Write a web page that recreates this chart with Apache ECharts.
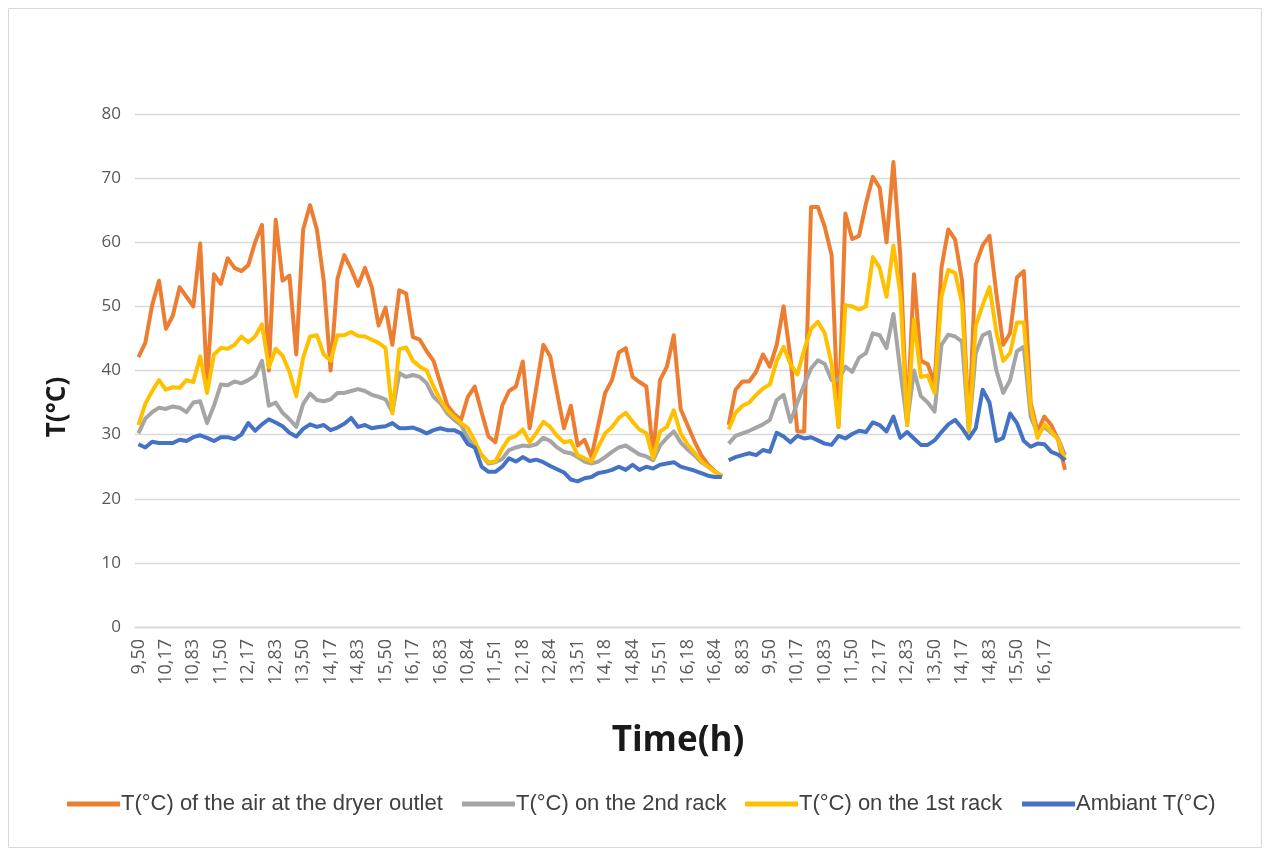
<!DOCTYPE html>
<html>
<head>
<meta charset="utf-8">
<script src="https://cdn.jsdelivr.net/npm/echarts@6/dist/echarts.min.js"></script>
<style>
  html, body { margin: 0; padding: 0; background: #ffffff; }
  #chart { width: 1271px; height: 856px; }
</style>
</head>
<body>
<div id="chart"></div>
<script>
// Tick labels (decimal hours) printed every fourth reading slot
const tickLabels = ['9,50','10,17','10,83','11,50','12,17','12,83','13,50','14,17','14,83','15,50','16,17','16,83',
  '10,84','11,51','12,18','12,84','13,51','14,18','14,84','15,51','16,18','16,84',
  '8,83','9,50','10,17','10,83','11,50','12,17','12,83','13,50','14,17','14,83','15,50','16,17'];
const labelEvery = 4;      // one label per 4 readings (10-minute steps)
const slotCount = 161;     // reading slots on the time axis (the tail is empty)
const day3Start = 86;      // first reading of the third day; not joined to the day before

// T(°C) of the air at the dryer outlet
const outletT = [
  42.1, 44.3, 50.2, 54.0, 46.5, 48.5, 53.0, 51.5, 50.0, 59.8, 38.0, 55.0, 53.5, 57.5, 56.0, 55.5,
  56.4, 60.0, 62.7, 40.0, 63.5, 54.0, 54.8, 42.5, 62.0, 65.8, 62.0, 54.0, 40.0, 54.3, 58.0, 55.8,
  53.2, 56.0, 53.0, 47.0, 49.8, 44.0, 52.5, 52.0, 45.2, 44.8, 43.0, 41.5, 38.0, 34.6, 33.2, 32.3,
  35.9, 37.5, 33.5, 29.7, 28.8, 34.5, 36.8, 37.5, 41.4, 31.0, 37.5, 44.0, 42.2, 36.5, 31.0, 34.5,
  28.3, 29.2, 26.5, 31.5, 36.5, 38.5, 42.8, 43.5, 39.0, 38.2, 37.5, 27.0, 38.5, 40.6, 45.5, 34.0,
  31.5, 29.0, 26.8, 25.3, 24.3, 23.4,
  31.5, 37.0, 38.3, 38.3, 39.8, 42.5, 40.6, 44.0, 50.0, 42.0, 30.5, 30.5, 65.5, 65.5, 62.4, 58.0,
  31.2, 64.5, 60.5, 61.0, 66.0, 70.2, 68.5, 60.0, 72.5, 58.0, 31.5, 55.0, 41.5, 41.0, 38.0, 56.0,
  62.0, 60.4, 54.0, 31.0, 56.5, 59.5, 61.0, 52.0, 44.0, 45.8, 54.5, 55.5, 35.0, 30.5, 32.8, 31.5,
  29.2, 24.5
];
// T(°C) on the 2nd rack
const rack2T = [
  30.2, 32.5, 33.5, 34.2, 34.0, 34.4, 34.2, 33.5, 35.0, 35.2, 31.8, 34.5, 37.8, 37.7, 38.3, 38.0,
  38.5, 39.2, 41.5, 34.5, 35.0, 33.4, 32.4, 31.2, 34.8, 36.4, 35.4, 35.2, 35.5, 36.5, 36.5, 36.8,
  37.1, 36.8, 36.2, 35.9, 35.5, 33.5, 39.6, 39.0, 39.3, 39.0, 38.0, 35.9, 34.9, 33.3, 32.3, 31.5,
  29.5, 28.0, 26.8, 25.5, 25.7, 26.2, 27.6, 28.0, 28.3, 28.2, 28.5, 29.5, 29.0, 28.0, 27.3, 27.1,
  26.5, 25.8, 25.5, 25.8, 26.5, 27.3, 28.0, 28.3, 27.6, 26.9, 26.6, 26.0, 28.3, 29.5, 30.5, 28.8,
  27.7, 26.8, 25.7, 25.0, 24.2, 23.6,
  28.6, 29.8, 30.2, 30.6, 31.1, 31.6, 32.3, 35.4, 36.2, 32.0, 35.0, 37.8, 40.3, 41.6, 41.0, 38.5,
  38.5, 40.6, 39.8, 42.0, 42.7, 45.8, 45.5, 43.5, 48.8, 40.0, 31.8, 40.0, 36.0, 35.0, 33.6, 44.0,
  45.6, 45.3, 44.5, 30.5, 42.7, 45.5, 46.0, 40.0, 36.5, 38.5, 43.0, 43.7, 32.8, 30.2, 31.2, 30.3,
  29.4, 26.8
];
// T(°C) on the 1st rack
const rack1T = [
  31.5, 34.8, 36.8, 38.5, 37.0, 37.4, 37.3, 38.5, 38.2, 42.2, 36.5, 42.5, 43.5, 43.4, 44.0, 45.3,
  44.4, 45.3, 47.2, 40.5, 43.4, 42.3, 39.8, 36.0, 42.0, 45.3, 45.5, 42.5, 41.5, 45.5, 45.5, 46.0,
  45.4, 45.3, 44.8, 44.3, 43.5, 33.3, 43.3, 43.6, 41.5, 40.6, 40.0, 37.5, 35.4, 33.8, 32.8, 31.8,
  31.0, 29.0, 26.8, 25.7, 25.8, 27.8, 29.4, 29.8, 30.8, 28.8, 30.3, 32.0, 31.2, 29.8, 28.8, 29.0,
  26.8, 26.3, 25.8, 28.1, 30.2, 31.2, 32.6, 33.4, 32.0, 30.8, 30.2, 26.3, 30.5, 31.2, 33.8, 30.2,
  28.5, 27.2, 25.9, 25.0, 24.2, 23.6,
  30.8, 33.4, 34.5, 35.0, 36.2, 37.2, 37.8, 41.5, 43.7, 41.0, 39.4, 43.2, 46.5, 47.6, 45.8, 41.0,
  31.2, 50.2, 50.0, 49.5, 50.0, 57.7, 56.0, 51.5, 59.5, 52.0, 31.5, 48.0, 39.0, 39.2, 36.5, 51.5,
  55.7, 55.2, 50.5, 30.5, 47.0, 50.2, 53.0, 46.0, 41.5, 42.7, 47.5, 47.5, 34.4, 29.5, 31.6, 30.5,
  29.2, 26.0
];
// Ambiant T(°C)
const ambientT = [
  28.5, 28.0, 28.9, 28.7, 28.7, 28.7, 29.2, 29.0, 29.6, 29.9, 29.5, 29.0, 29.6, 29.6, 29.3, 30.0,
  31.8, 30.6, 31.6, 32.4, 31.9, 31.3, 30.3, 29.7, 30.9, 31.6, 31.2, 31.5, 30.7, 31.1, 31.7, 32.6,
  31.2, 31.5, 31.0, 31.2, 31.3, 31.8, 31.0, 31.0, 31.1, 30.7, 30.2, 30.7, 31.0, 30.7, 30.7, 30.2,
  28.5, 28.0, 25.0, 24.2, 24.2, 25.0, 26.3, 25.8, 26.5, 25.9, 26.1, 25.7, 25.1, 24.6, 24.1, 23.0,
  22.7, 23.2, 23.4, 24.0, 24.2, 24.5, 25.0, 24.5, 25.3, 24.5, 25.0, 24.7, 25.3, 25.5, 25.7, 25.0,
  24.7, 24.4, 24.0, 23.6, 23.4, 23.4,
  26.0, 26.5, 26.8, 27.1, 26.8, 27.6, 27.3, 30.3, 29.7, 28.8, 29.8, 29.4, 29.6, 29.1, 28.6, 28.4,
  29.8, 29.4, 30.1, 30.6, 30.4, 31.9, 31.5, 30.5, 32.8, 29.5, 30.4, 29.4, 28.4, 28.4, 29.1, 30.4,
  31.6, 32.3, 31.0, 29.4, 31.0, 37.0, 35.0, 29.0, 29.5, 33.3, 31.8, 29.0, 28.1, 28.6, 28.5, 27.3,
  26.9, 26.0
];

const seriesDefs = [
  { name: 'T(°C) of the air at the dryer outlet', values: outletT,  color: '#ED7D31' },
  { name: 'T(°C) on the 2nd rack',                values: rack2T,   color: '#A5A5A5' },
  { name: 'T(°C) on the 1st rack',                values: rack1T,   color: '#FFC000' },
  { name: 'Ambiant T(°C)',                        values: ambientT, color: '#4472C4' }
];

// Category slots: a label on every fourth slot, blanks elsewhere
const categories = [];
for (let i = 0; i < slotCount; i++) {
  const k = i / labelEvery;
  categories.push(i % labelEvery === 0 && k < tickLabels.length ? tickLabels[k] : '');
}

// Keep only the readings in [from, to); the rest stay empty so the runs are not joined
function run(values, from, to) {
  return values.map((v, i) => (i >= from && i < to ? v : '-'));
}

const series = [];
seriesDefs.forEach(def => {
  [[0, day3Start], [day3Start, def.values.length]].forEach(([a, b]) => {
    series.push({
      name: def.name,
      type: 'line',
      data: run(def.values, a, b),
      showSymbol: false,
      symbol: 'none',
      connectNulls: false,
      lineStyle: { color: def.color, width: 4, join: 'round' },
      itemStyle: { color: def.color },
      emphasis: { disabled: true }
    });
  });
});

const legendLefts = [67, 462, 745, 1022];
const legends = seriesDefs.map((def, i) => ({
  data: [def.name],
  left: legendLefts[i],
  top: 793,
  padding: 0,
  icon: 'rect',
  itemWidth: 53,
  itemHeight: 5,
  itemGap: 0,
  selectedMode: false,
  textStyle: { fontFamily: 'Liberation Sans', fontSize: 22, color: '#404040', padding: [0, 0, 0, -4] }
}));

const chart = echarts.init(document.getElementById('chart'), null, { renderer: 'canvas' });
chart.setOption({
  animation: false,
  backgroundColor: '#ffffff',
  grid: { left: 135, right: 31, top: 114, bottom: 229, containLabel: false },
  xAxis: {
    type: 'category',
    data: categories,
    boundaryGap: true,
    axisTick: { show: false },
    axisLine: { lineStyle: { color: '#d9d9d9', width: 1.3 } },
    axisLabel: {
      interval: labelEvery - 1,
      rotate: 90,
      margin: 12,
      fontFamily: 'Open Sans',
      fontSize: 18,
      color: '#595959'
    }
  },
  yAxis: {
    type: 'value',
    min: 0,
    max: 80,
    interval: 10,
    axisLine: { show: false },
    axisTick: { show: false },
    axisLabel: { margin: 14, fontFamily: 'Open Sans', fontSize: 17, color: '#595959' },
    splitLine: { lineStyle: { color: '#d9d9d9', width: 1.3 } }
  },
  legend: legends,
  series: series,
  graphic: [
    {
      type: 'rect',
      shape: { x: 8.5, y: 8.5, width: 1253, height: 839 },
      style: { fill: 'none', stroke: '#d9d9d9', lineWidth: 1 },
      silent: true
    },
    {
      type: 'text',
      x: 678, y: 741,
      style: {
        text: 'Time(h)',
        font: 'bold 35px "Open Sans"',
        fill: '#1a1a1a',
        textAlign: 'center',
        textVerticalAlign: 'middle'
      }
    },
    {
      type: 'text',
      x: 58, y: 407,
      rotation: Math.PI / 2,
      style: {
        text: 'T(°C)',
        font: 'bold 26px "Open Sans"',
        fill: '#1a1a1a',
        textAlign: 'center',
        textVerticalAlign: 'middle'
      }
    }
  ]
});
</script>
</body>
</html>
